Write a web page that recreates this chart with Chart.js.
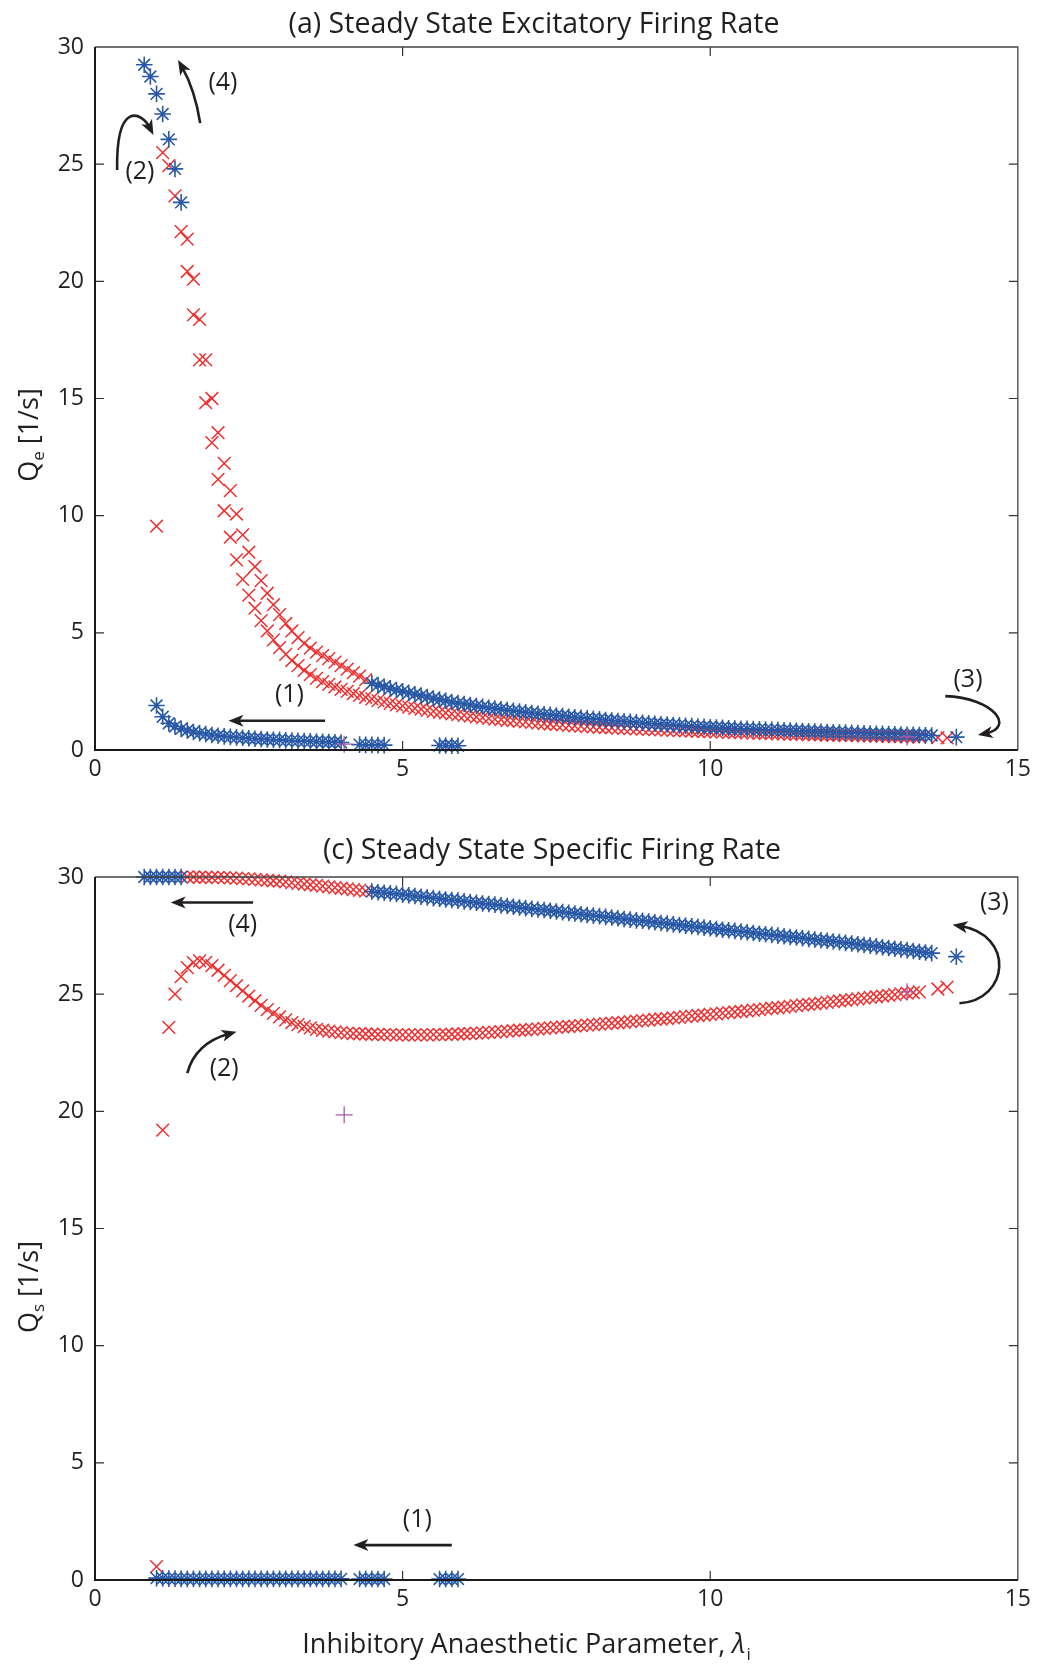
<!DOCTYPE html>
<html>
<head>
<meta charset="utf-8">
<script src="https://cdn.jsdelivr.net/npm/chart.js@4.4.1/dist/chart.umd.min.js"></script>
<style>
  body { margin: 0; background: #fff; }
  .painel { position: absolute; left: 0; width: 1037px; }
  .painel canvas { display: block; }
</style>
</head>
<body>
<div class="painel" style="top:0;height:790px"><canvas id="graficoA"></canvas></div>
<div class="painel" style="top:790px;height:874px"><canvas id="graficoC"></canvas></div>
<script>
// lambda_i values of each branch
const LAM_UL = [0.8, 0.9, 1.0, 1.1, 1.2, 1.3, 1.4];
const LAM_LOW = [1.0, 1.1, 1.2, 1.3, 1.4, 1.5, 1.6, 1.7, 1.8, 1.9, 2.0, 2.1, 2.2, 2.3, 2.4, 2.5, 2.6, 2.7, 2.8, 2.9,
  3.0, 3.1, 3.2, 3.3, 3.4, 3.5, 3.6, 3.7, 3.8, 3.9, 4.0, 4.3, 4.4, 4.5, 4.6, 4.7, 5.6, 5.7, 5.8, 5.9];
const LAM_UPPER = [4.5, 4.6, 4.7, 4.8, 4.9, 5.0, 5.1, 5.2, 5.3, 5.4, 5.5, 5.6, 5.7, 5.8, 5.9, 6.0, 6.1, 6.2, 6.3, 6.4,
  6.5, 6.6, 6.7, 6.8, 6.9, 7.0, 7.1, 7.2, 7.3, 7.4, 7.5, 7.6, 7.7, 7.8, 7.9, 8.0, 8.1, 8.2, 8.3, 8.4,
  8.5, 8.6, 8.7, 8.8, 8.9, 9.0, 9.1, 9.2, 9.3, 9.4, 9.5, 9.6, 9.7, 9.8, 9.9, 10.0, 10.1, 10.2, 10.3, 10.4,
  10.5, 10.6, 10.7, 10.8, 10.9, 11.0, 11.1, 11.2, 11.3, 11.4, 11.5, 11.6, 11.7, 11.8, 11.9, 12.0, 12.1, 12.2, 12.3, 12.4,
  12.5, 12.6, 12.7, 12.8, 12.9, 13.0, 13.1, 13.2, 13.3, 13.4, 13.5, 13.6, 14.0];
const LAM_RED_U = [1.5, 1.6, 1.7, 1.8, 1.9, 2.0, 2.1, 2.2, 2.3, 2.4, 2.5, 2.6, 2.7, 2.8, 2.9, 3.0, 3.1, 3.2, 3.3, 3.4,
  3.5, 3.6, 3.7, 3.8, 3.9, 4.0, 4.1, 4.2, 4.3, 4.4];
const LAM_RED_L = [1.1, 1.2, 1.3, 1.4, 1.5, 1.6, 1.7, 1.8, 1.9, 2.0, 2.1, 2.2, 2.3, 2.4, 2.5, 2.6, 2.7, 2.8, 2.9, 3.0,
  3.1, 3.2, 3.3, 3.4, 3.5, 3.6, 3.7, 3.8, 3.9, 4.0, 4.1, 4.2, 4.3, 4.4, 4.5, 4.6, 4.7, 4.8, 4.9, 5.0,
  5.1, 5.2, 5.3, 5.4, 5.5, 5.6, 5.7, 5.8, 5.9, 6.0, 6.1, 6.2, 6.3, 6.4, 6.5, 6.6, 6.7, 6.8, 6.9, 7.0,
  7.1, 7.2, 7.3, 7.4, 7.5, 7.6, 7.7, 7.8, 7.9, 8.0, 8.1, 8.2, 8.3, 8.4, 8.5, 8.6, 8.7, 8.8, 8.9, 9.0,
  9.1, 9.2, 9.3, 9.4, 9.5, 9.6, 9.7, 9.8, 9.9, 10.0, 10.1, 10.2, 10.3, 10.4, 10.5, 10.6, 10.7, 10.8, 10.9, 11.0,
  11.1, 11.2, 11.3, 11.4, 11.5, 11.6, 11.7, 11.8, 11.9, 12.0, 12.1, 12.2, 12.3, 12.4, 12.5, 12.6, 12.7, 12.8, 12.9, 13.0,
  13.1, 13.2, 13.3, 13.4, 13.7, 13.85];
const LAM_LONE = [1.0];
const LAM_ODD = [4.05, 13.2];

// (a) Q_e [1/s]
const QE_UL = [29.24, 28.74, 28.0, 27.14, 26.06, 24.8, 23.37];
const QE_LOW = [1.9, 1.42, 1.14, 1.0, 0.9, 0.83, 0.77, 0.72, 0.68, 0.64, 0.61, 0.58, 0.56, 0.54, 0.52, 0.5, 0.48, 0.47, 0.45, 0.44,
  0.43, 0.41, 0.4, 0.39, 0.38, 0.37, 0.36, 0.35, 0.34, 0.33, 0.32, 0.23, 0.22, 0.22, 0.21, 0.21, 0.19, 0.19, 0.18, 0.18];
const QE_UPPER = [2.85, 2.77, 2.7, 2.63, 2.56, 2.5, 2.44, 2.38, 2.32, 2.26, 2.2, 2.15, 2.1, 2.05, 2.0, 1.96, 1.92, 1.88, 1.84, 1.8,
  1.77, 1.74, 1.7, 1.67, 1.64, 1.61, 1.58, 1.55, 1.52, 1.5, 1.47, 1.45, 1.42, 1.4, 1.37, 1.35, 1.33, 1.31, 1.28, 1.26,
  1.24, 1.22, 1.2, 1.18, 1.16, 1.14, 1.12, 1.1, 1.09, 1.07, 1.05, 1.03, 1.02, 1.0, 0.99, 0.97, 0.96, 0.95, 0.93, 0.92,
  0.91, 0.9, 0.89, 0.88, 0.87, 0.86, 0.85, 0.84, 0.83, 0.82, 0.81, 0.8, 0.79, 0.78, 0.77, 0.76, 0.75, 0.74, 0.73, 0.72,
  0.71, 0.7, 0.69, 0.69, 0.68, 0.67, 0.66, 0.65, 0.65, 0.64, 0.63, 0.62, 0.55];
const QE_RED_U = [21.8, 20.09, 18.38, 16.65, 15.0, 13.54, 12.23, 11.07, 10.07, 9.18, 8.44, 7.82, 7.23, 6.69, 6.2, 5.78, 5.4, 5.08, 4.8, 4.55,
  4.35, 4.18, 4.03, 3.9, 3.75, 3.6, 3.45, 3.3, 3.15, 3.0];
const QE_RED_L = [25.49, 24.94, 23.65, 22.12, 20.42, 18.57, 16.65, 14.82, 13.12, 11.55, 10.21, 9.08, 8.11, 7.28, 6.61, 6.05, 5.52, 5.08, 4.7, 4.37,
  4.08, 3.82, 3.6, 3.4, 3.22, 3.06, 2.92, 2.8, 2.69, 2.59, 2.5, 2.41, 2.33, 2.25, 2.18, 2.11, 2.05, 1.99, 1.93, 1.88,
  1.83, 1.78, 1.74, 1.69, 1.65, 1.61, 1.58, 1.54, 1.51, 1.48, 1.45, 1.41, 1.38, 1.35, 1.32, 1.3, 1.27, 1.25, 1.22, 1.2,
  1.18, 1.15, 1.13, 1.11, 1.09, 1.07, 1.05, 1.03, 1.02, 1.0, 0.99, 0.97, 0.96, 0.95, 0.93, 0.92, 0.91, 0.9, 0.89, 0.88,
  0.87, 0.86, 0.85, 0.84, 0.83, 0.82, 0.81, 0.8, 0.79, 0.78, 0.77, 0.76, 0.75, 0.75, 0.74, 0.73, 0.72, 0.71, 0.71, 0.7,
  0.69, 0.69, 0.68, 0.67, 0.67, 0.66, 0.65, 0.65, 0.64, 0.63, 0.63, 0.62, 0.62, 0.61, 0.6, 0.6, 0.59, 0.59, 0.58, 0.57,
  0.57, 0.56, 0.56, 0.55, 0.53, 0.52];
const QE_LONE = [9.55];
const QE_ODD = [0.25, 0.56];

// (c) Q_s [1/s]
const QS_UL = [30.0, 30.0, 30.0, 30.0, 30.0, 30.0, 30.0];
const QS_LOW = [0.08, 0.07, 0.06, 0.06, 0.05, 0.05, 0.05, 0.05, 0.05, 0.05, 0.05, 0.05, 0.05, 0.05, 0.05, 0.05, 0.05, 0.05, 0.05, 0.05,
  0.05, 0.05, 0.05, 0.05, 0.05, 0.05, 0.05, 0.05, 0.05, 0.05, 0.05, 0.04, 0.04, 0.04, 0.04, 0.04, 0.04, 0.04, 0.04, 0.04];
const QS_UPPER = [29.38, 29.35, 29.33, 29.3, 29.28, 29.25, 29.22, 29.19, 29.16, 29.13, 29.1, 29.07, 29.04, 29.02, 28.99, 28.96, 28.93, 28.9, 28.87, 28.85,
  28.82, 28.79, 28.76, 28.73, 28.7, 28.67, 28.64, 28.61, 28.59, 28.56, 28.53, 28.5, 28.47, 28.44, 28.41, 28.38, 28.35, 28.33, 28.3, 28.27,
  28.24, 28.21, 28.18, 28.15, 28.13, 28.1, 28.07, 28.04, 28.01, 27.98, 27.95, 27.92, 27.9, 27.87, 27.84, 27.81, 27.78, 27.75, 27.73, 27.7,
  27.67, 27.64, 27.61, 27.58, 27.56, 27.53, 27.5, 27.47, 27.44, 27.42, 27.39, 27.36, 27.33, 27.3, 27.28, 27.25, 27.22, 27.19, 27.16, 27.13,
  27.1, 27.07, 27.04, 27.0, 26.97, 26.94, 26.91, 26.88, 26.84, 26.81, 26.78, 26.75, 26.6];
const QS_RED_U = [30.0, 30.0, 29.99, 29.99, 29.98, 29.98, 29.97, 29.96, 29.95, 29.93, 29.92, 29.9, 29.88, 29.86, 29.84, 29.82, 29.79, 29.76, 29.73, 29.7,
  29.67, 29.64, 29.61, 29.58, 29.55, 29.52, 29.49, 29.46, 29.43, 29.4];
const QS_RED_L = [19.2, 23.58, 25.0, 25.75, 26.13, 26.35, 26.42, 26.36, 26.22, 26.02, 25.8, 25.58, 25.36, 25.14, 24.92, 24.72, 24.52, 24.34, 24.18, 24.03,
  23.9, 23.79, 23.7, 23.62, 23.56, 23.5, 23.46, 23.42, 23.39, 23.36, 23.34, 23.32, 23.31, 23.3, 23.29, 23.28, 23.27, 23.27, 23.26, 23.26,
  23.26, 23.26, 23.26, 23.26, 23.27, 23.27, 23.28, 23.29, 23.3, 23.31, 23.32, 23.34, 23.35, 23.37, 23.38, 23.4, 23.42, 23.44, 23.46, 23.48,
  23.5, 23.52, 23.54, 23.56, 23.58, 23.6, 23.62, 23.64, 23.66, 23.68, 23.7, 23.72, 23.74, 23.76, 23.78, 23.8, 23.83, 23.85, 23.87, 23.89,
  23.92, 23.94, 23.96, 23.99, 24.01, 24.04, 24.06, 24.09, 24.11, 24.14, 24.16, 24.19, 24.21, 24.24, 24.26, 24.29, 24.32, 24.34, 24.37, 24.4,
  24.42, 24.45, 24.48, 24.51, 24.54, 24.56, 24.59, 24.62, 24.65, 24.68, 24.71, 24.74, 24.77, 24.8, 24.83, 24.86, 24.89, 24.92, 24.95, 24.98,
  25.01, 25.04, 25.07, 25.1, 25.22, 25.3];
const QS_LONE = [0.57];
const QS_ODD = [19.85, 25.1];

const X_TICKS = [0, 5, 10, 15];
const Y_TICKS = [0, 5, 10, 15, 20, 25, 30];

const INK = '#231f20';
const FONT = '"Open Sans", "DejaVu Sans", sans-serif';
const BLUE = '#2858a6';
const RED = '#ee3030';
const PURPLE = '#a85aa8';

function pts(xs, ys) {
  return xs.map((x, i) => ({ x, y: ys[i] }));
}

function marks(xs, ys, style, color, r, w) {
  return {
    data: pts(xs, ys),
    pointStyle: style,
    pointRadius: r,
    pointBorderWidth: w,
    pointBorderColor: color,
    pointBackgroundColor: color,
    showLine: false,
    clip: false,
  };
}

function axisX(height) {
  return {
    type: 'linear', min: 0, max: 15,
    afterBuildTicks: s => { s.ticks = X_TICKS.map(v => ({ value: v })); },
    ticks: { padding: 6, color: INK, font: { family: FONT, size: 23 } },
    grid: { display: false, drawTicks: false },
    border: { display: false },
    afterFit: s => { s.height = height; },
  };
}

function axisY() {
  return {
    type: 'linear', min: 0, max: 30,
    afterBuildTicks: s => { s.ticks = Y_TICKS.map(v => ({ value: v })); },
    ticks: { padding: 11, color: INK, font: { family: FONT, size: 23 } },
    grid: { display: false, drawTicks: false },
    border: { display: false },
    afterFit: s => { s.width = 95; },
  };
}

function arrow(ctx, p) {
  const end = p[p.length - 1], prev = p[p.length - 2];
  const ang = Math.atan2(end[1] - prev[1], end[0] - prev[0]);
  const c = Math.cos(ang), s = Math.sin(ang);
  // pull the shaft back a bit so the head stays sharp
  const stop = [end[0] - 8 * c, end[1] - 8 * s];
  ctx.beginPath();
  ctx.moveTo(p[0][0], p[0][1]);
  if (p.length === 2) ctx.lineTo(stop[0], stop[1]);
  else if (p.length === 3) ctx.quadraticCurveTo(p[1][0], p[1][1], stop[0], stop[1]);
  else ctx.bezierCurveTo(p[1][0], p[1][1], p[2][0], p[2][1], stop[0], stop[1]);
  ctx.stroke();
  ctx.beginPath();
  ctx.moveTo(end[0], end[1]);
  ctx.lineTo(end[0] - 15 * c + 6 * s, end[1] - 15 * s - 6 * c);
  ctx.lineTo(end[0] - 11 * c, end[1] - 11 * s);
  ctx.lineTo(end[0] - 15 * c - 6 * s, end[1] - 15 * s + 6 * c);
  ctx.closePath();
  ctx.fill();
}

// frame, inward ticks, titles and the numbered arrows
function decor(cfg) {
  return {
    id: 'decor',
    afterDatasetsDraw(chart) {
      const { ctx, chartArea: a, scales: { x, y } } = chart;
      ctx.save();
      ctx.strokeStyle = '#333';
      ctx.lineWidth = 1.2;
      ctx.beginPath();
      X_TICKS.forEach(v => {
        if (v <= x.min || v >= x.max) return;
        const px = x.getPixelForValue(v);
        ctx.moveTo(px, a.bottom); ctx.lineTo(px, a.bottom - 9);
        ctx.moveTo(px, a.top); ctx.lineTo(px, a.top + 9);
      });
      Y_TICKS.forEach(v => {
        if (v <= y.min || v >= y.max) return;
        const py = y.getPixelForValue(v);
        ctx.moveTo(a.left, py); ctx.lineTo(a.left + 9, py);
        ctx.moveTo(a.right, py); ctx.lineTo(a.right - 9, py);
      });
      ctx.stroke();
      ctx.strokeStyle = '#444';
      ctx.lineWidth = 1.3;
      ctx.beginPath();
      ctx.moveTo(a.left, a.top); ctx.lineTo(a.right, a.top); ctx.lineTo(a.right, a.bottom);
      ctx.stroke();
      ctx.strokeStyle = '#1a1a1a';
      ctx.lineWidth = 2;
      ctx.beginPath();
      ctx.moveTo(a.left, a.top); ctx.lineTo(a.left, a.bottom); ctx.lineTo(a.right, a.bottom);
      ctx.stroke();
      ctx.restore();
    },
    afterDraw(chart) {
      const { ctx, scales: { x, y } } = chart;
      ctx.save();
      ctx.fillStyle = INK;
      ctx.strokeStyle = INK;

      // panel title
      ctx.font = '28.5px ' + FONT;
      ctx.textAlign = 'center';
      ctx.textBaseline = 'middle';
      ctx.fillText(cfg.title, cfg.titleAt[0], cfg.titleAt[1]);

      // y label with subscript, rotated
      ctx.save();
      ctx.translate(cfg.yLabelAt[0], cfg.yLabelAt[1]);
      ctx.rotate(-Math.PI / 2);
      ctx.textAlign = 'left';
      ctx.textBaseline = 'alphabetic';
      ctx.font = '27px ' + FONT;
      const w1 = ctx.measureText('Q').width, w3 = ctx.measureText(' [1/s]').width;
      ctx.font = '17px ' + FONT;
      const w2 = ctx.measureText(cfg.ySub).width;
      let cx = -(w1 + w2 + w3) / 2;
      ctx.font = '27px ' + FONT;
      ctx.fillText('Q', cx, 9); cx += w1;
      ctx.font = '17px ' + FONT;
      ctx.fillText(cfg.ySub, cx, 15); cx += w2;
      ctx.font = '27px ' + FONT;
      ctx.fillText(' [1/s]', cx, 9);
      ctx.restore();

      // x label
      if (cfg.xLabelAt) {
        const main = 'Inhibitory Anaesthetic Parameter, ';
        ctx.textAlign = 'left';
        ctx.textBaseline = 'alphabetic';
        ctx.font = '27px ' + FONT;
        const m1 = ctx.measureText(main).width;
        ctx.font = 'italic 27px ' + FONT;
        const m2 = ctx.measureText('λ').width;
        ctx.font = '17px ' + FONT;
        const m3 = ctx.measureText('i').width;
        let lx = cfg.xLabelAt[0] - (m1 + m2 + m3) / 2;
        const ly = cfg.xLabelAt[1] + 10;
        ctx.font = '27px ' + FONT;
        ctx.fillText(main, lx, ly); lx += m1;
        ctx.font = 'italic 27px ' + FONT;
        ctx.fillText('λ', lx, ly); lx += m2 + 1;
        ctx.font = '17px ' + FONT;
        ctx.fillText('i', lx, ly + 7);
      }

      // numbered arrows
      ctx.lineWidth = 2.6;
      ctx.font = '25px ' + FONT;
      ctx.textAlign = 'center';
      ctx.textBaseline = 'middle';
      cfg.notes.forEach(n => {
        if (n.text) {
          ctx.fillText(n.text, x.getPixelForValue(n.at[0]), y.getPixelForValue(n.at[1]));
        } else {
          arrow(ctx, n.arrow.map(p => [x.getPixelForValue(p[0]), y.getPixelForValue(p[1])]));
        }
      });
      ctx.restore();
    },
  };
}

function options(top, xHeight) {
  return {
    responsive: true,
    maintainAspectRatio: false,
    animation: false,
    events: [],
    layout: { padding: { top, right: 19, bottom: 0, left: 0 } },
    plugins: { legend: { display: false }, tooltip: { enabled: false }, title: { display: false } },
    scales: { x: axisX(xHeight), y: axisY() },
  };
}

new Chart(document.getElementById('graficoA'), {
  type: 'scatter',
  data: {
    datasets: [
      marks(LAM_ODD, QE_ODD, 'cross', PURPLE, 8.5, 1.3),
      marks(LAM_UL, QE_UL, 'star', BLUE, 8.3, 1.6),
      marks(LAM_UPPER, QE_UPPER, 'star', BLUE, 8.3, 1.6),
      marks(LAM_LOW, QE_LOW, 'star', BLUE, 8.3, 1.6),
      marks(LAM_RED_U, QE_RED_U, 'crossRot', RED, 9, 1.5),
      marks(LAM_RED_L, QE_RED_L, 'crossRot', RED, 9, 1.5),
      marks(LAM_LONE, QE_LONE, 'crossRot', RED, 9, 1.5),
    ],
  },
  options: options(47, 40),
  plugins: [decor({
    title: '(a) Steady State Excitatory Firing Rate',
    titleAt: [534, 25],
    ySub: 'e',
    yLabelAt: [29, 435],
    notes: [
      { text: '(4)', at: [2.08, 28.47] },
      { arrow: [[1.71, 26.75], [1.625, 28.17], [1.35, 29.45]] },
      { text: '(2)', at: [0.73, 24.68] },
      { arrow: [[0.36, 24.75], [0.34, 27.74], [0.76, 27.23], [0.95, 26.25]] },
      { text: '(1)', at: [3.16, 2.35] },
      { arrow: [[3.74, 1.25], [2.17, 1.25]] },
      { text: '(3)', at: [14.19, 2.99] },
      { arrow: [[13.82, 2.3], [14.63, 2.22], [14.95, 0.94], [14.35, 0.64]] },
    ],
  })],
});

new Chart(document.getElementById('graficoC'), {
  type: 'scatter',
  data: {
    datasets: [
      marks(LAM_ODD, QS_ODD, 'cross', PURPLE, 8.5, 1.3),
      marks(LAM_UL, QS_UL, 'star', BLUE, 8.3, 1.6),
      marks(LAM_UPPER, QS_UPPER, 'star', BLUE, 8.3, 1.6),
      marks(LAM_LOW, QS_LOW, 'star', BLUE, 8.3, 1.6),
      marks(LAM_RED_U, QS_RED_U, 'crossRot', RED, 9, 1.5),
      marks(LAM_RED_L, QS_RED_L, 'crossRot', RED, 9, 1.5),
      marks(LAM_LONE, QS_LONE, 'crossRot', RED, 9, 1.5),
    ],
  },
  options: options(87, 84),
  plugins: [decor({
    title: '(c) Steady State Specific Firing Rate',
    titleAt: [552, 61],
    ySub: 's',
    yLabelAt: [29, 497],
    xLabelAt: [526, 853],
    notes: [
      { text: '(4)', at: [2.4, 27.94] },
      { arrow: [[2.57, 28.91], [1.23, 28.91]] },
      { text: '(2)', at: [2.1, 21.8] },
      { arrow: [[1.5, 21.63], [1.63, 22.9], [2.3, 23.4]] },
      { text: '(3)', at: [14.62, 28.88] },
      { arrow: [[14.05, 24.61], [14.87, 24.75], [14.95, 27.53], [13.94, 27.96]] },
      { text: '(1)', at: [5.24, 2.56] },
      { arrow: [[5.8, 1.49], [4.2, 1.49]] },
    ],
  })],
});
</script>
</body>
</html>
